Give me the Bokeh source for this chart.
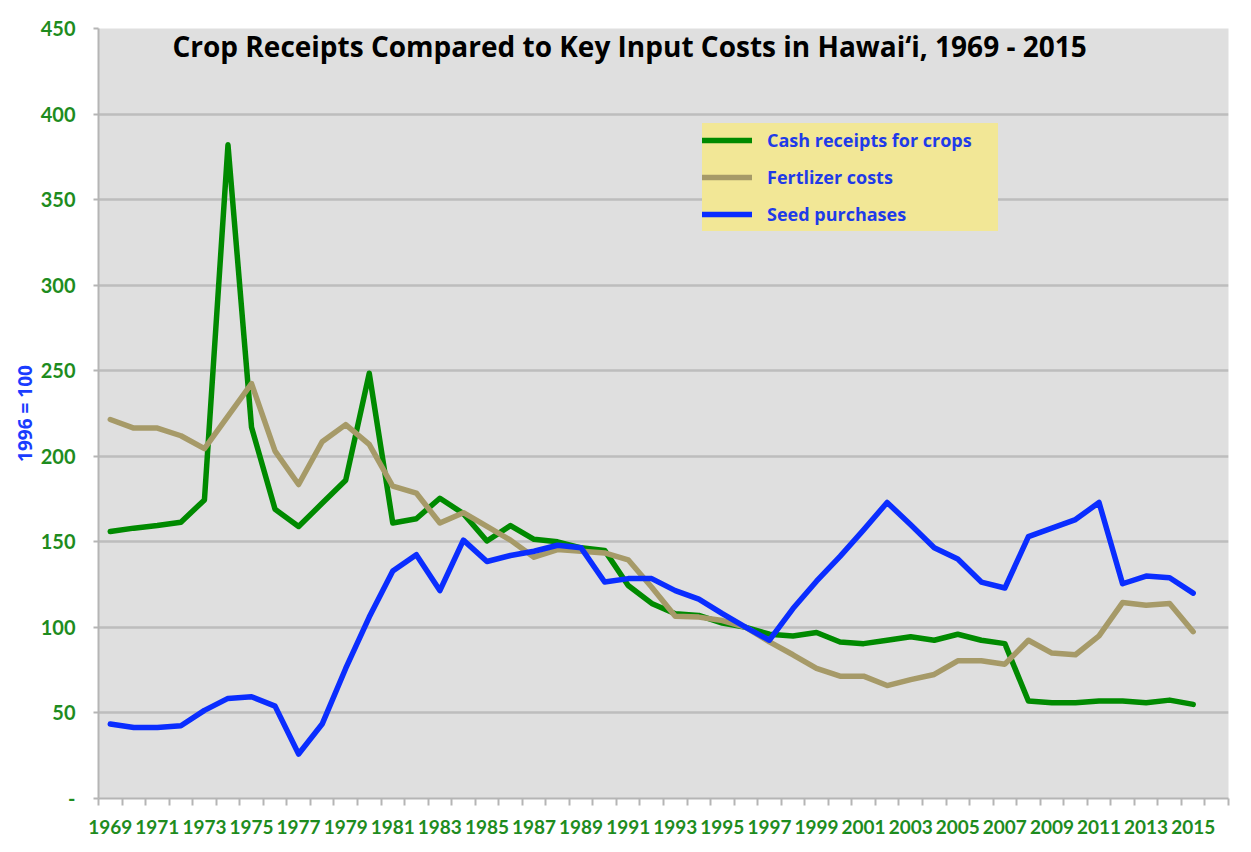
from bokeh.plotting import figure
from bokeh.models import FixedTicker, Legend, LegendItem, Label, Range1d
from bokeh.embed import file_html
from bokeh.resources import INLINE

# ---------------- data ----------------
years = list(range(1969, 2016))
cash_receipts = [156, 158, 159.5, 161.5, 174.5, 382, 217, 169, 159, 172.5,
                 186, 248.5, 161, 163.5, 175.5, 166.5, 150.5, 159.5, 151.5, 150,
                 146.5, 145, 124.5, 114, 108, 107, 102.5, 100, 96, 95,
                 97, 91.5, 90.5, 92.5, 94.5, 92.5, 96, 92.5, 90.5, 57,
                 56, 56, 57, 57, 56, 57.5, 55]
fertilizer_costs = [221.5, 216.5, 216.5, 212, 204.5, 223.5, 242.5, 203, 183.5, 208.5,
                    218.5, 207, 182.5, 178.5, 161, 167, 159, 151, 141, 145.5,
                    144.5, 143.5, 139.5, 123.5, 106.5, 106, 104, 100, 91.5, 84,
                    76, 71.5, 71.5, 66, 69.5, 72.5, 80.5, 80.5, 78.5, 92.5,
                    85, 84, 95, 114.5, 113, 114, 97.5]
seed_purchases = [43.5, 41.5, 41.5, 42.5, 51.5, 58.5, 59.5, 54, 26, 43.5,
                  76, 106, 133, 142.5, 121.5, 151, 138.5, 142, 144.5, 148,
                  146.5, 126.5, 128.5, 128.5, 121.5, 116.5, 108, 100, 92.5, 111,
                  127, 141.5, 157, 173, 160, 146.5, 140, 126.5, 123, 153,
                  158, 163, 173, 125.5, 130, 129, 120]
series_names = ["Cash receipts for crops", "Fertlizer costs", "Seed purchases"]
y_ticks = [0, 50, 100, 150, 200, 250, 300, 350, 400, 450]
x_label_years = list(range(1969, 2016, 2))
title_text = "Crop Receipts Compared to Key Input Costs in Hawai\u2018i, 1969 - 2015"
y_axis_title = "1996 = 100"

# ---------------- style ----------------
GREEN = "#008a00"
TAN = "#a69a68"
BLUE = "#0a2dff"
LABEL_GREEN = "#1e8c1e"
LEGEND_BLUE = "#1f3be8"
FONT = "Lato"

p = figure(width=1235, height=836, output_backend="svg", toolbar_location=None,
           x_range=Range1d(1968.5, 2016.5), y_range=Range1d(0, 450),
           min_border_left=98, min_border_right=7, min_border_top=28,
           min_border_bottom=37)
p.background_fill_color = "#dfdfdf"
p.border_fill_color = "white"
p.outline_line_color = None

# grid
p.xgrid.grid_line_color = None
p.ygrid.grid_line_color = "#bdbdbd"
p.ygrid.grid_line_width = 2.5

# y axis
p.yaxis.ticker = FixedTicker(ticks=y_ticks)
p.yaxis.major_label_overrides = {0: "-"}
p.yaxis.major_label_text_color = LABEL_GREEN
p.yaxis.major_label_text_font = FONT
p.yaxis.major_label_text_font_style = "bold"
p.yaxis.major_label_text_font_size = "20px"
p.yaxis.major_tick_out = 5
p.yaxis.major_tick_in = 0
p.yaxis.major_tick_line_color = "#b5b5b5"
p.yaxis.major_tick_line_width = 2
p.yaxis.minor_tick_line_color = None
p.yaxis.axis_line_color = "#b5b5b5"
p.yaxis.axis_line_width = 2
p.yaxis.major_label_standoff = 18
p.yaxis.axis_label = y_axis_title
p.yaxis.axis_label_text_color = "#1a3cff"
p.yaxis.axis_label_text_font = "Open Sans"
p.yaxis.axis_label_text_font_style = "bold"
p.yaxis.axis_label_text_font_size = "19px"
p.yaxis.axis_label_standoff = 0

# x axis
minor = [y - 0.5 for y in range(1969, 2018)]
p.xaxis.ticker = FixedTicker(ticks=x_label_years, minor_ticks=minor)
p.xaxis.major_label_text_color = LABEL_GREEN
p.xaxis.major_label_text_font = FONT
p.xaxis.major_label_text_font_style = "bold"
p.xaxis.major_label_text_font_size = "19px"
p.xaxis.major_tick_out = 0
p.xaxis.major_tick_in = 0
p.xaxis.major_tick_line_color = None
p.xaxis.minor_tick_in = 0
p.xaxis.minor_tick_out = 7
p.xaxis.minor_tick_line_color = "#b5b5b5"
p.xaxis.minor_tick_line_width = 2
p.xaxis.axis_line_color = "#b5b5b5"
p.xaxis.axis_line_width = 2
p.xaxis.major_label_standoff = 14

# lines
r_cash = p.line(years, cash_receipts, line_color=GREEN, line_width=5.5,
                line_join="round", line_cap="round")
r_fert = p.line(years, fertilizer_costs, line_color=TAN, line_width=5.5,
                line_join="round", line_cap="round")
r_seed = p.line(years, seed_purchases, line_color=BLUE, line_width=5.5,
                line_join="round", line_cap="round")

# title inside plot area
title = Label(x=1991.06, y=439.5, text=title_text, text_align="center",
              text_baseline="middle", text_font="Open Sans", text_font_style="bold",
              text_font_size="28px", text_color="black")
p.add_layout(title)

legend = Legend(items=[LegendItem(label=series_names[0], renderers=[r_cash]),
                       LegendItem(label=series_names[1], renderers=[r_fert]),
                       LegendItem(label=series_names[2], renderers=[r_seed])],
                location=(604, 567))
legend.background_fill_color = "#f2e796"
legend.background_fill_alpha = 1
legend.border_line_color = None
legend.label_text_color = LEGEND_BLUE
legend.label_text_font = "Open Sans"
legend.label_text_font_style = "bold"
legend.label_text_font_size = "18px"
legend.glyph_width = 50
legend.glyph_height = 20
legend.label_height = 34
legend.label_width = 231
legend.label_standoff = 15
legend.spacing = 3
legend.padding = 19
legend.margin = 0
p.add_layout(legend)

open("out.html", "w").write(file_html(p, INLINE))
